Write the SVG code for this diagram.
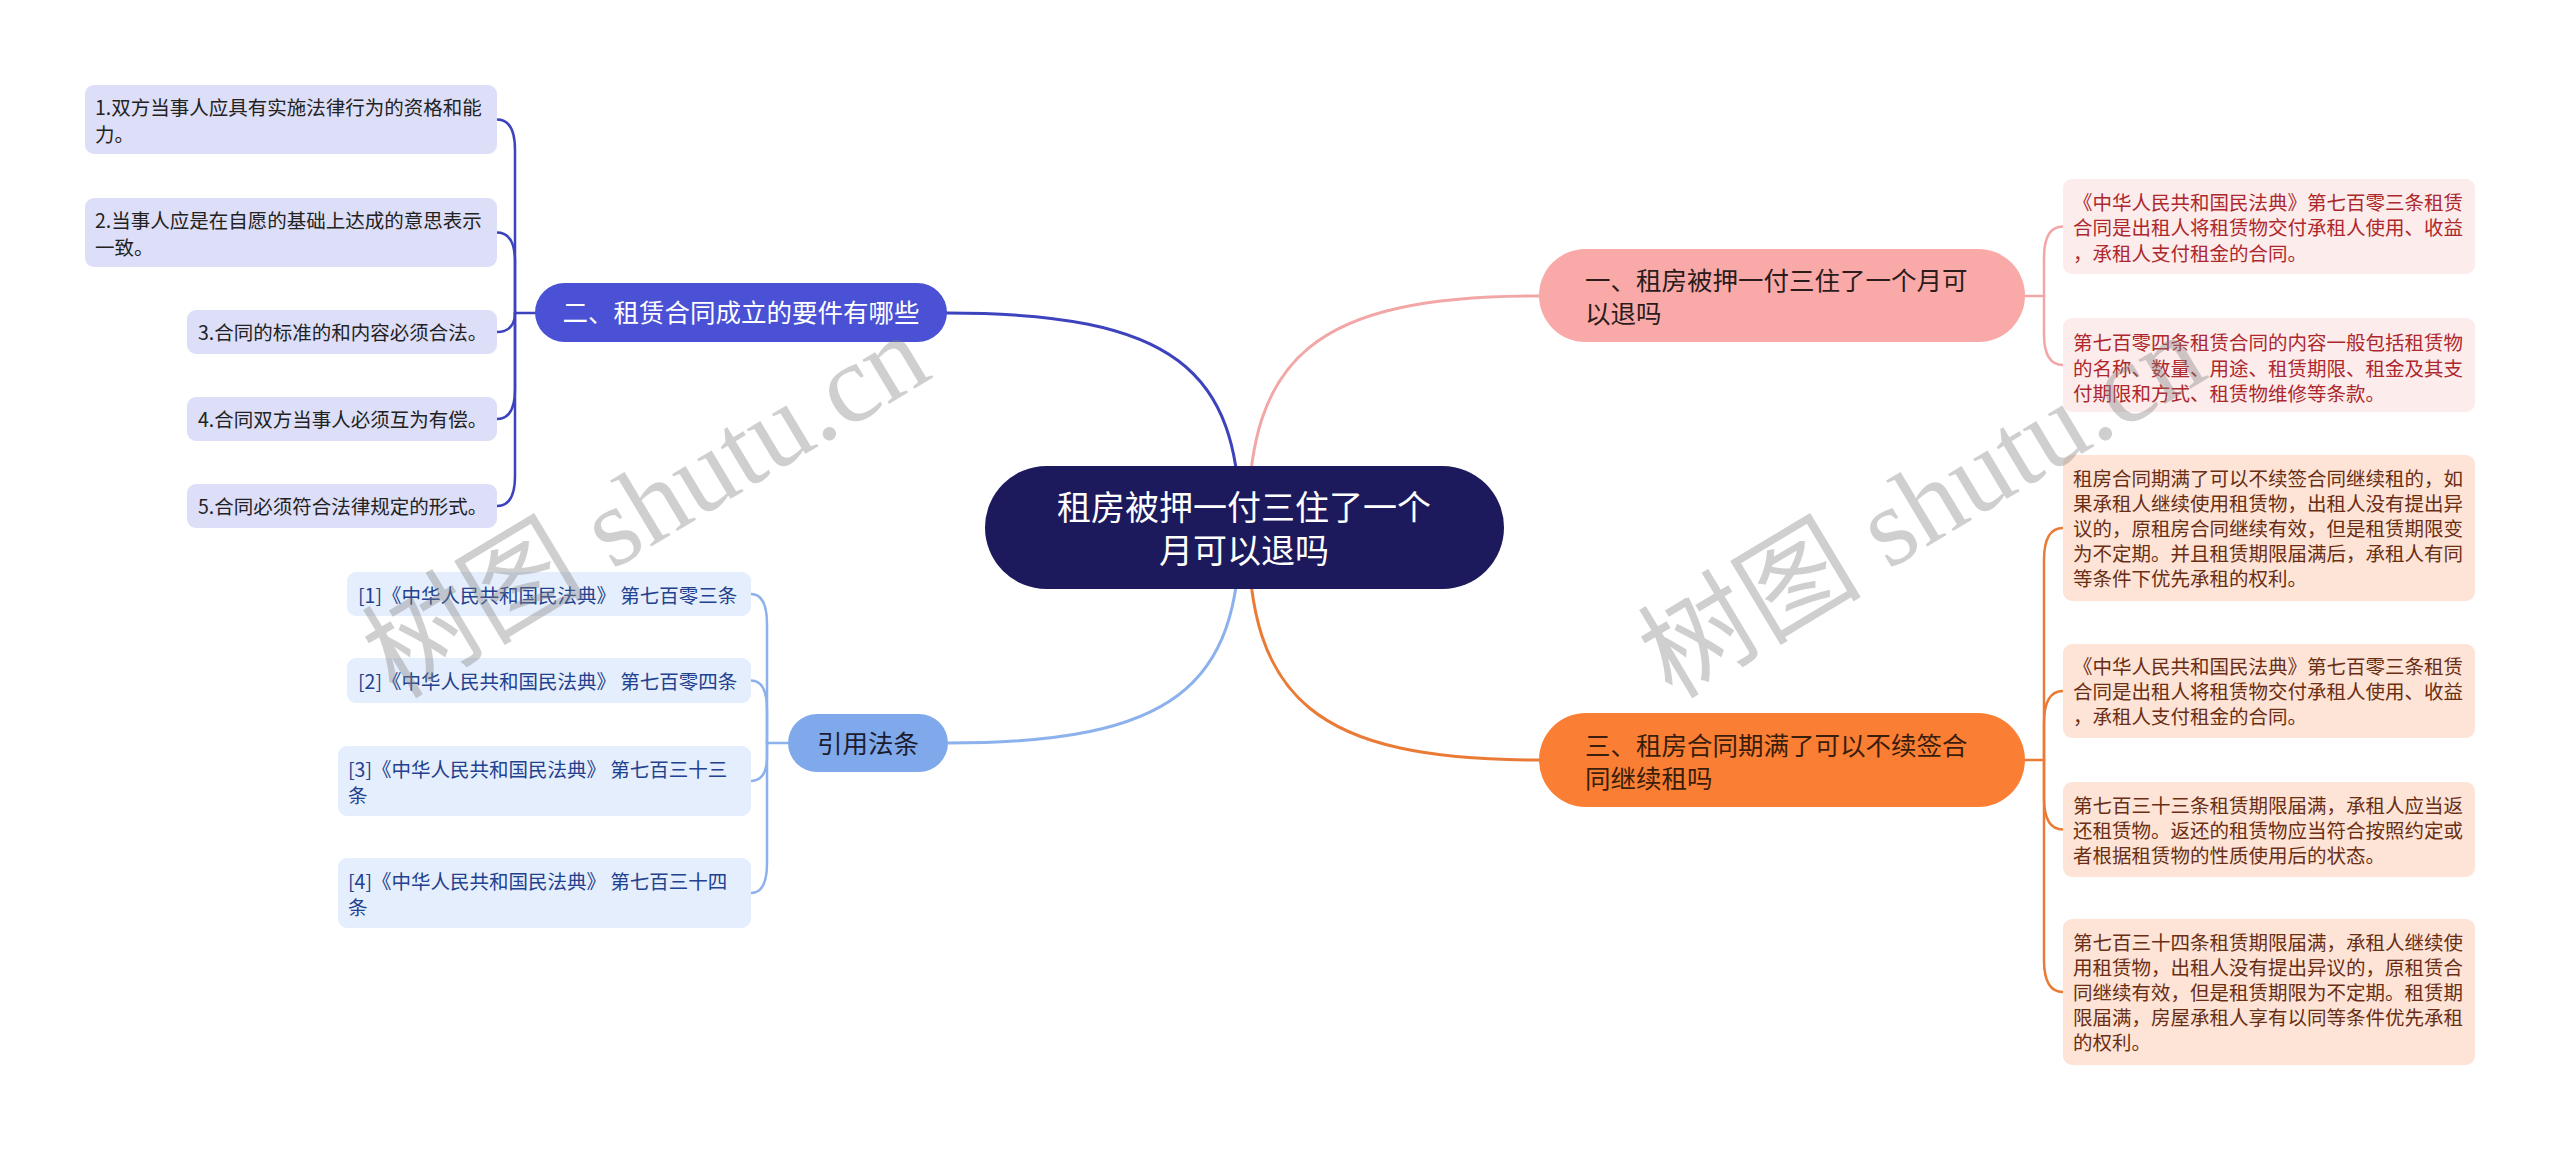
<svg xmlns="http://www.w3.org/2000/svg" width="2560" height="1150" viewBox="0 0 2560 1150">
<style>
text { font-family: "Noto Sans CJK SC", "Noto Sans", sans-serif; }
.s { font-size: 19.5px; }
.m { font-size: 25.5px; }
.r { font-size: 34px; fill: #ffffff; }
.c { fill: none; stroke-linecap: round; stroke-linejoin: round; }
.c1 { stroke-width: 3; }
.c2 { stroke-width: 2.5; }
.lb { fill: #dddef7; }
.lbt { fill: #222222; }
.rb { fill: #e5eefc; }
.rbt { fill: #22418f; }
.pb { fill: #fdecec; }
.pbt { fill: #ad282c; }
.ob { fill: #fde4d6; }
.obt { fill: #6a2e14; }
.wm { font-family: "Liberation Serif", "Noto Sans CJK SC", serif; font-size: 112px; fill: #808080; fill-opacity: 0.38; }
</style>
<rect width="2560" height="1150" fill="#ffffff"/>
<g id="connectors">
  <path class="c c1" stroke="#3d42bd" d="M 1240 527 C 1240 369, 1173 313, 947 313"/>
  <path class="c c1" stroke="#8db1ec" d="M 1240 527 C 1240 687, 1173 743, 948 743"/>
  <path class="c c1" stroke="#f2a7a6" d="M 1248 527 C 1248 356, 1315 296, 1539 296"/>
  <path class="c c1" stroke="#ea7b37" d="M 1248 527 C 1248 699, 1315 760, 1539 760"/>
  <g stroke="#3d42bd">
    <path class="c c2" d="M 515 313 L 535 313"/>
    <path class="c c2" d="M 497 119.5 Q 515 119.5 515 150 L 515 313"/>
    <path class="c c2" d="M 497 232.5 Q 515 232.5 515 262 L 515 313"/>
    <path class="c c2" d="M 497 332 C 511 332, 515 322, 515 313"/>
    <path class="c c2" d="M 497 419 Q 515 419 515 389 L 515 313"/>
    <path class="c c2" d="M 497 506 Q 515 506 515 476 L 515 313"/>
  </g>
  <g stroke="#8db1ec">
    <path class="c c2" d="M 767 743 L 788 743"/>
    <path class="c c2" d="M 751 594 Q 767 594 767 624 L 767 743"/>
    <path class="c c2" d="M 751 680.5 Q 767 680.5 767 710 L 767 743"/>
    <path class="c c2" d="M 751 781 Q 767 781 767 756 L 767 743"/>
    <path class="c c2" d="M 751 893 Q 767 893 767 863 L 767 743"/>
  </g>
  <g stroke="#f2a7a6">
    <path class="c c2" d="M 2025 296 L 2044 296"/>
    <path class="c c2" d="M 2063 226.5 Q 2044 226.5 2044 258 L 2044 296"/>
    <path class="c c2" d="M 2063 365 Q 2044 365 2044 334 L 2044 296"/>
  </g>
  <g stroke="#ea7b37">
    <path class="c c2" d="M 2025 760 L 2044 760"/>
    <path class="c c2" d="M 2063 528 Q 2044 528 2044 560 L 2044 760"/>
    <path class="c c2" d="M 2063 691 Q 2044 691 2044 723 L 2044 760"/>
    <path class="c c2" d="M 2063 829.5 Q 2044 829.5 2044 798 L 2044 760"/>
    <path class="c c2" d="M 2063 992 Q 2044 992 2044 960 L 2044 760"/>
  </g>
</g>

<g id="root">
  <rect x="985" y="466" width="519" height="123" rx="61.5" fill="#1c1a5c"/>
  <text class="r" text-anchor="middle"><tspan x="1244" y="520">租房被押一付三住了一个</tspan><tspan x="1244" y="563">月可以退吗</tspan></text>
</g>

<g id="node-2">
  <rect x="535" y="283" width="412" height="59" rx="29.5" fill="#4a51d4"/>
  <text class="m" x="741" y="322" text-anchor="middle" fill="#ffffff">二、租赁合同成立的要件有哪些</text>
</g>
<g id="node-2-1">
  <rect class="lb" x="85" y="85" width="412" height="69" rx="9"/>
  <text class="s lbt"><tspan x="95" y="114.5">1.双方当事人应具有实施法律行为的资格和能</tspan><tspan x="95" y="141.5">力。</tspan></text>
</g>
<g id="node-2-2">
  <rect class="lb" x="85" y="198" width="412" height="69" rx="9"/>
  <text class="s lbt"><tspan x="95" y="227.5">2.当事人应是在自愿的基础上达成的意思表示</tspan><tspan x="95" y="254.5">一致。</tspan></text>
</g>
<g id="node-2-3">
  <rect class="lb" x="187" y="310" width="310" height="44" rx="9"/>
  <text class="s lbt" x="198" y="339.5">3.合同的标准的和内容必须合法。</text>
</g>
<g id="node-2-4">
  <rect class="lb" x="187" y="397" width="310" height="44" rx="9"/>
  <text class="s lbt" x="198" y="426.5">4.合同双方当事人必须互为有偿。</text>
</g>
<g id="node-2-5">
  <rect class="lb" x="187" y="484" width="310" height="44" rx="9"/>
  <text class="s lbt" x="198" y="513.5">5.合同必须符合法律规定的形式。</text>
</g>

<g id="node-ref">
  <rect x="788" y="714" width="160" height="58" rx="29" fill="#80a9ec"/>
  <text class="m" x="868" y="752.5" text-anchor="middle" fill="#1c1c30">引用法条</text>
</g>
<g id="node-ref-1">
  <rect class="rb" x="347" y="572" width="404" height="44" rx="9"/>
  <text class="s rbt" x="358" y="602.5">[1]《中华人民共和国民法典》 第七百零三条</text>
</g>
<g id="node-ref-2">
  <rect class="rb" x="347" y="658" width="404" height="45" rx="9"/>
  <text class="s rbt" x="358" y="689">[2]《中华人民共和国民法典》 第七百零四条</text>
</g>
<g id="node-ref-3">
  <rect class="rb" x="338" y="746" width="413" height="70" rx="9"/>
  <text class="s rbt"><tspan x="348" y="776.5">[3]《中华人民共和国民法典》 第七百三十三</tspan><tspan x="348" y="802.5">条</tspan></text>
</g>
<g id="node-ref-4">
  <rect class="rb" x="338" y="858" width="413" height="70" rx="9"/>
  <text class="s rbt"><tspan x="348" y="888.5">[4]《中华人民共和国民法典》 第七百三十四</tspan><tspan x="348" y="914.5">条</tspan></text>
</g>

<g id="node-1">
  <rect x="1539" y="249" width="486" height="93" rx="46.5" fill="#f9aaa8"/>
  <text class="m" fill="#2b1b1b"><tspan x="1585" y="290">一、租房被押一付三住了一个月可</tspan><tspan x="1585" y="323">以退吗</tspan></text>
</g>
<g id="node-1-1">
  <rect class="pb" x="2063" y="179" width="412" height="95" rx="9"/>
  <text class="s pbt"><tspan x="2073" y="209.5">《中华人民共和国民法典》第七百零三条租赁</tspan><tspan x="2073" y="235">合同是出租人将租赁物交付承租人使用、收益</tspan><tspan x="2073" y="260.5">，承租人支付租金的合同。</tspan></text>
</g>
<g id="node-1-2">
  <rect class="pb" x="2063" y="318" width="412" height="94" rx="9"/>
  <text class="s pbt"><tspan x="2073" y="350">第七百零四条租赁合同的内容一般包括租赁物</tspan><tspan x="2073" y="375.5">的名称、数量、用途、租赁期限、租金及其支</tspan><tspan x="2073" y="401">付期限和方式、租赁物维修等条款。</tspan></text>
</g>

<g id="node-3">
  <rect x="1539" y="713" width="486" height="94" rx="47" fill="#fa7f34"/>
  <text class="m" fill="#3a1d0a"><tspan x="1585" y="755">三、租房合同期满了可以不续签合</tspan><tspan x="1585" y="788">同继续租吗</tspan></text>
</g>
<g id="node-3-1">
  <rect class="ob" x="2063" y="455" width="412" height="146" rx="9"/>
  <text class="s obt"><tspan x="2073" y="486">租房合同期满了可以不续签合同继续租的，如</tspan><tspan x="2073" y="511">果承租人继续使用租赁物，出租人没有提出异</tspan><tspan x="2073" y="536">议的，原租房合同继续有效，但是租赁期限变</tspan><tspan x="2073" y="561">为不定期。并且租赁期限届满后，承租人有同</tspan><tspan x="2073" y="586">等条件下优先承租的权利。</tspan></text>
</g>
<g id="node-3-2">
  <rect class="ob" x="2063" y="644" width="412" height="94" rx="9"/>
  <text class="s obt"><tspan x="2073" y="674">《中华人民共和国民法典》第七百零三条租赁</tspan><tspan x="2073" y="699">合同是出租人将租赁物交付承租人使用、收益</tspan><tspan x="2073" y="724">，承租人支付租金的合同。</tspan></text>
</g>
<g id="node-3-3">
  <rect class="ob" x="2063" y="782" width="412" height="95" rx="9"/>
  <text class="s obt"><tspan x="2073" y="812.5">第七百三十三条租赁期限届满，承租人应当返</tspan><tspan x="2073" y="837.5">还租赁物。返还的租赁物应当符合按照约定或</tspan><tspan x="2073" y="862.5">者根据租赁物的性质使用后的状态。</tspan></text>
</g>
<g id="node-3-4">
  <rect class="ob" x="2063" y="919" width="412" height="146" rx="9"/>
  <text class="s obt"><tspan x="2073" y="950">第七百三十四条租赁期限届满，承租人继续使</tspan><tspan x="2073" y="975">用租赁物，出租人没有提出异议的，原租赁合</tspan><tspan x="2073" y="1000">同继续有效，但是租赁期限为不定期。租赁期</tspan><tspan x="2073" y="1025">限届满，房屋承租人享有以同等条件优先承租</tspan><tspan x="2073" y="1050">的权利。</tspan></text>
</g>

<g id="watermark">
  <text class="wm" transform="translate(396 700) rotate(-31)">树图 shutu.cn</text>
  <text class="wm" transform="translate(1672 700) rotate(-31)">树图 shutu.cn</text>
</g>
</svg>
